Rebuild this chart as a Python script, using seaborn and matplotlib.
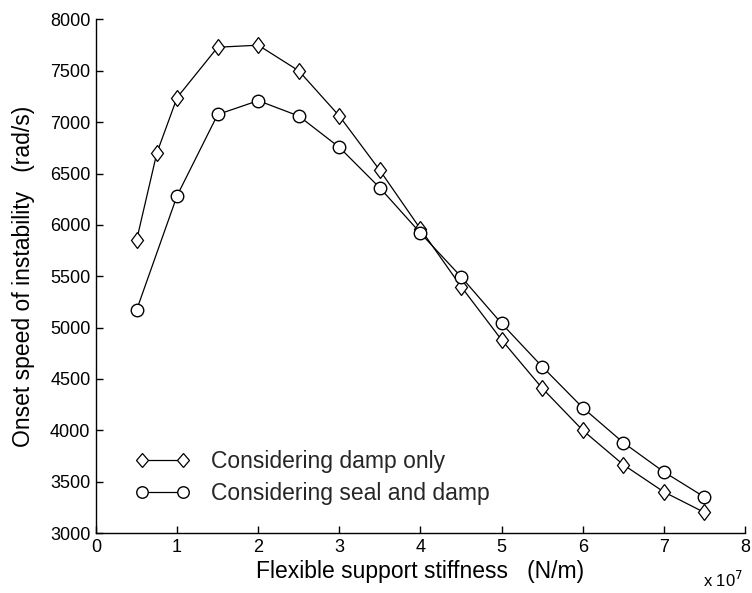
import matplotlib
matplotlib.use("Agg")
import matplotlib.pyplot as plt
from matplotlib.markers import MarkerStyle
from matplotlib.transforms import Affine2D
import seaborn as sns
import pandas as pd

# Data (stiffness in units of 1e7 N/m, onset speed in rad/s)
x_damp = [0.5, 0.75, 1.0, 1.5, 2.0, 2.5, 3.0, 3.5, 4.0, 4.5, 5.0, 5.5, 6.0, 6.5, 7.0, 7.5]
y_damp = [5850, 6700, 7240, 7730, 7750, 7500, 7060, 6530, 5960, 5400, 4880, 4410, 4000, 3665, 3400, 3200]
x_seal = [0.5, 1.0, 1.5, 2.0, 2.5, 3.0, 3.5, 4.0, 4.5, 5.0, 5.5, 6.0, 6.5, 7.0, 7.5]
y_seal = [5170, 6285, 7075, 7210, 7060, 6755, 6360, 5920, 5495, 5040, 4620, 4220, 3880, 3595, 3350]
label_damp = "Considering damp only"
label_seal = "Considering seal and damp"
x_ticks = [0, 1, 2, 3, 4, 5, 6, 7, 8]
y_ticks = [3000, 3500, 4000, 4500, 5000, 5500, 6000, 6500, 7000, 7500, 8000]

sns.set_theme(style="white")
plt.rcParams['font.family'] = ['Liberation Sans', 'DejaVu Sans']

fig = plt.figure(figsize=(7.52, 5.93), dpi=100)
ax = fig.add_axes([96 / 752, 1 - 533 / 593, (745 - 96) / 752, (533 - 19.5) / 593])

df_d = pd.DataFrame({"x": x_damp, "y": y_damp})
df_s = pd.DataFrame({"x": x_seal, "y": y_seal})

diamond = MarkerStyle("D", transform=Affine2D().scale(0.82, 1.0))

sns.lineplot(data=df_d, x="x", y="y", ax=ax, color="black", lw=0.9,
             marker=diamond, markersize=7.8, markerfacecolor="white",
             markeredgecolor="black", markeredgewidth=0.9, label=label_damp)
sns.lineplot(data=df_s, x="x", y="y", ax=ax, color="black", lw=0.9,
             marker="o", markersize=9, markerfacecolor="white",
             markeredgecolor="black", markeredgewidth=1.0, label=label_seal)

ax.set_xlim(0, 8)
ax.set_ylim(3000, 8000)
ax.set_xticks(x_ticks)
ax.set_yticks(y_ticks)
ax.set_xticklabels([str(v) for v in x_ticks])
ax.set_yticklabels([str(v) for v in y_ticks])
ax.tick_params(direction="in", length=5, width=1, colors="black", labelsize=13,
               bottom=True, left=True, pad=4)
for s in ["top", "right"]:
    ax.spines[s].set_visible(False)
for s in ["left", "bottom"]:
    ax.spines[s].set_color("black")
    ax.spines[s].set_linewidth(1.0)
ax.grid(False)

ax.set_xlabel("Flexible support stiffness   (N/m)", fontsize=16.5, color="black", labelpad=3)
ax.set_ylabel("Onset speed of instability   (rad/s)", fontsize=16.5, color="black", labelpad=11)
fig.text(703 / 752, 1 - 580 / 593, r"x 10$^7$", fontsize=12, color="black",
         ha="left", va="center")

leg = ax.legend(loc="center left", bbox_to_anchor=(0.0606, 0.108), frameon=False,
                numpoints=2, fontsize=16.5, handlelength=2.4, handletextpad=0.9,
                labelspacing=0.38, borderpad=0, borderaxespad=0)
for h in leg.legend_handles:
    h.set_markersize(h.get_markersize() * 0.92)

fig.savefig("out.png", dpi=100, facecolor="white")
